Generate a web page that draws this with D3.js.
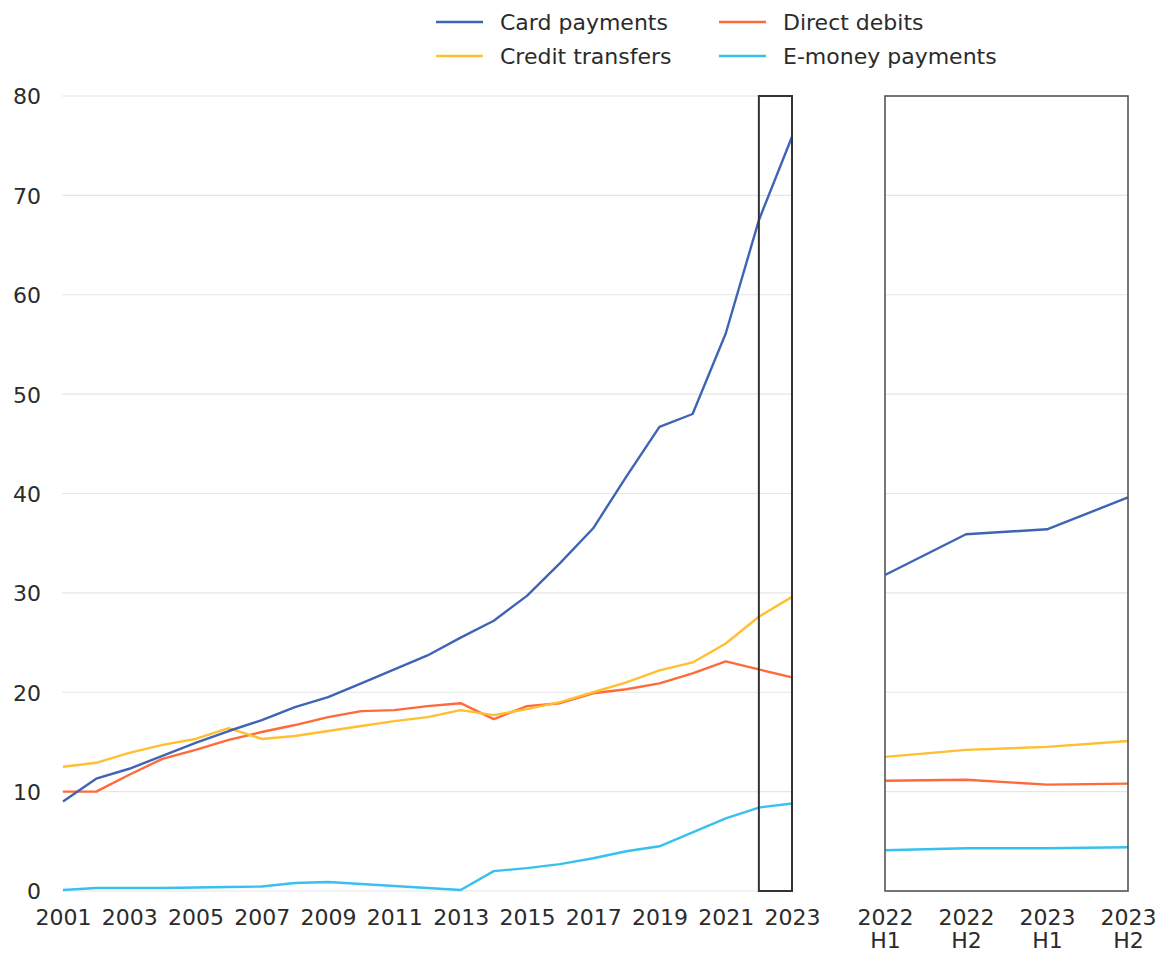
<!DOCTYPE html>
<html><head><meta charset="utf-8">
<script src="https://cdn.jsdelivr.net/npm/d3@7"></script>
<style>body{margin:0;background:#fff;} svg{display:block;} text{font-family:"DejaVu Sans",sans-serif;fill:#2b2b2b;}</style>
</head><body><svg id="c" width="1161" height="956"></svg>
<script>
const years = d3.range(2001, 2024);
const cardPayments = [9.0,11.3,12.3,13.6,14.9,16.1,17.2,18.5,19.5,20.9,22.3,23.7,25.5,27.2,29.7,33.0,36.5,41.7,46.7,48.0,56.1,67.5,75.9];
const directDebits = [10.0,10.0,11.7,13.3,14.2,15.2,16.0,16.7,17.5,18.1,18.2,18.6,18.9,17.3,18.6,18.9,19.9,20.3,20.9,21.9,23.1,22.3,21.5];
const creditTransfers = [12.5,12.9,13.9,14.7,15.3,16.4,15.3,15.6,16.1,16.6,17.1,17.5,18.2,17.7,18.3,19.0,20.0,21.0,22.2,23.0,24.9,27.6,29.6];
const emoneyPayments = [0.1,0.3,0.3,0.3,0.35,0.4,0.45,0.8,0.9,0.7,0.5,0.3,0.1,2.0,2.3,2.7,3.3,4.0,4.5,5.9,7.3,8.4,8.8];

const halfYears = ["2022 H1","2022 H2","2023 H1","2023 H2"];
const cardH = [31.8,35.9,36.4,39.6];
const directH = [11.1,11.2,10.7,10.8];
const creditH = [13.5,14.2,14.5,15.1];
const emoneyH = [4.1,4.3,4.3,4.4];

const yTicks = [0,10,20,30,40,50,60,70,80];
const xTickYears = [2001,2003,2005,2007,2009,2011,2013,2015,2017,2019,2021,2023];

const seriesNames = ["Card payments","Direct debits","Credit transfers","E-money payments"];
const colors = ["#3f64b5","#ff6a3b","#ffbf2f","#38c0ee"];

const svg = d3.select("#c");
const y = d3.scaleLinear().domain([0,80]).range([891,96]);
const x = d3.scaleLinear().domain([2001,2023]).range([63,792]);
const xh = d3.scalePoint().domain(halfYears).range([885,1128]);

// grid
const grid = svg.append("g");
yTicks.forEach(t=>{
  grid.append("line").attr("x1",62).attr("x2",793).attr("y1",y(t)).attr("y2",y(t)).attr("stroke","#e6e6e6").attr("stroke-width",1.2);
  grid.append("line").attr("x1",885).attr("x2",1128).attr("y1",y(t)).attr("y2",y(t)).attr("stroke","#e6e6e6").attr("stroke-width",1.2);
});

// y axis labels
const yAxis = svg.append("g").attr("transform","translate(41,0)")
  .call(d3.axisLeft(y).tickValues(yTicks).tickSize(0).tickPadding(0));
yAxis.select(".domain").remove();
yAxis.selectAll("text").style("font-size","22px").attr("fill","#2b2b2b").attr("dy","0.36em");

// x axis labels
const xAxis = svg.append("g").attr("transform","translate(0,909)")
  .call(d3.axisBottom(x).tickValues(xTickYears).tickFormat(d3.format("d")).tickSize(0).tickPadding(0));
xAxis.select(".domain").remove();
xAxis.selectAll("text").style("font-size","22px").attr("fill","#2b2b2b").attr("dy","0.71em");

// right axis labels (two lines)
const xhAxis = svg.append("g").attr("transform","translate(0,909)")
  .call(d3.axisBottom(xh).tickSize(0).tickPadding(0).tickFormat(""));
xhAxis.select(".domain").remove();
xhAxis.selectAll(".tick").each(function(d){
  const parts = d.split(" ");
  const t = d3.select(this).append("text").attr("text-anchor","middle").style("font-size","22px").attr("fill","#2b2b2b");
  t.append("tspan").attr("x",0).attr("y",0).attr("dy","0.71em").text(parts[0]);
  t.append("tspan").attr("x",0).attr("y",23).attr("dy","0.71em").text(parts[1]);
});

// lines
const annual = [cardPayments, directDebits, creditTransfers, emoneyPayments];
const half = [cardH, directH, creditH, emoneyH];
const lineA = d3.line().x((d,i)=>x(years[i])).y(d=>y(d));
const lineH = d3.line().x((d,i)=>xh(halfYears[i])).y(d=>y(d));
const order = [3,1,2,0];
order.forEach(k=>{
  svg.append("path").attr("d",lineA(annual[k])).attr("fill","none").attr("stroke",colors[k]).attr("stroke-width",2.4).attr("stroke-linejoin","round");
  svg.append("path").attr("d",lineH(half[k])).attr("fill","none").attr("stroke",colors[k]).attr("stroke-width",2.4).attr("stroke-linejoin","round");
});

// boxes
svg.append("rect").attr("x",x(2022)).attr("y",y(80)).attr("width",x(2023)-x(2022)).attr("height",y(0)-y(80))
  .attr("fill","none").attr("stroke","#333").attr("stroke-width",2);
svg.append("rect").attr("x",xh("2022 H1")).attr("y",y(80)).attr("width",xh("2023 H2")-xh("2022 H1")).attr("height",y(0)-y(80))
  .attr("fill","none").attr("stroke","#555").attr("stroke-width",1.6);

// legend
const legPos = [[436,22],[719,22],[436,56],[719,56]];
seriesNames.forEach((n,i)=>{
  const g = svg.append("g").attr("transform",`translate(${legPos[i][0]},${legPos[i][1]})`);
  g.append("line").attr("x1",0).attr("x2",47).attr("y1",0).attr("y2",0).attr("stroke",colors[i]).attr("stroke-width",2.5);
  g.append("text").attr("x",64).attr("y",0).attr("dy","0.35em").style("font-size","22px").attr("fill","#2b2b2b").text(n);
});
</script></body></html>
